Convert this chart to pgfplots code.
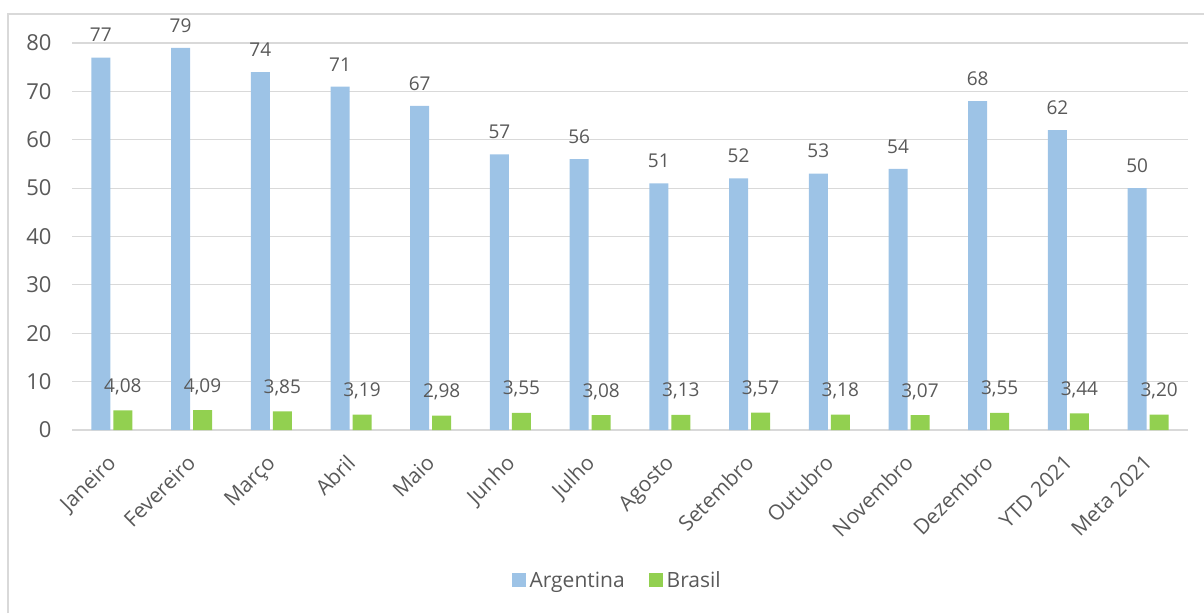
\documentclass[border=0pt]{standalone}
\usepackage{pgfplots}
\pgfplotsset{compat=1.18}
\usepackage{fontspec}
\setmainfont{Open Sans}
\definecolor{argc}{HTML}{9DC3E6}
\definecolor{brac}{HTML}{92D050}
\definecolor{gridc}{HTML}{D9D9D9}
\definecolor{txtc}{HTML}{595959}
\begin{document}
\begin{tikzpicture}[x=1pt,y=1pt]
\useasboundingbox (0,0) rectangle (1204,613);
\draw[gridc, line width=2pt] (7.5,0) -- (7.5,599) -- (1204,599);
\begin{axis}[
  at={(72pt,183pt)}, anchor=south west,
  scale only axis, width=1116pt, height=387pt,
  ybar=3pt, bar width=19pt,
  xmin=-0.5, xmax=13.5, ymin=0, ymax=80,
  xtick={0,...,13},
  xticklabels={Janeiro,Fevereiro,Março,Abril,Maio,Junho,Julho,Agosto,Setembro,Outubro,Novembro,Dezembro,YTD 2021,Meta 2021},
  ytick={0,10,...,80},
  axis x line*=bottom, axis y line*=left,
  y axis line style={draw=none},
  x axis line style={gridc, line width=1.5pt, -},
  ymajorgrids, grid style={gridc, line width=1.2pt},
  major tick length=0pt,
  clip=false,
  /pgf/number format/assume math mode=true,
  tick label style={text=txtc},
  xticklabel style={font=\fontsize{21}{25}\selectfont, rotate=45, anchor=north east, inner sep=0pt, xshift=-20.5pt, yshift=-12.5pt},
  yticklabel style={font=\fontsize{22}{26}\selectfont, xshift=-17pt},
  yticklabels={0,10,20,30,40,50,60,70,80},
  nodes near coords,
  every node near coord/.append style={font=\fontsize{19}{23}\selectfont, text=txtc, yshift=12pt},
  legend style={at={(0.4885,-0.388)}, anchor=center, draw=none, fill=none, legend columns=2,
    font=\fontsize{21}{25}\selectfont, text=txtc,
    /tikz/every odd column/.append style={column sep=2pt},
    /tikz/every even column/.append style={column sep=22pt}},
  legend image code/.code={\fill[#1] (0pt,-7pt) rectangle (14pt,7pt);},
]
\addplot[fill=argc, draw=none,
  nodes near coords={\pgfmathprintnumber[fixed, precision=0]{\pgfplotspointmeta}}]
  coordinates {(0,77) (1,79) (2,74) (3,71) (4,67) (5,57) (6,56) (7,51) (8,52) (9,53) (10,54) (11,68) (12,62) (13,50)};
\addplot[fill=brac, draw=none,
  nodes near coords={\pgfmathprintnumber[fixed, fixed zerofill, precision=2, use comma]{\pgfplotspointmeta}}]
  coordinates {(0,4.08) (1,4.09) (2,3.85) (3,3.19) (4,2.98) (5,3.55) (6,3.08) (7,3.13) (8,3.57) (9,3.18) (10,3.07) (11,3.55) (12,3.44) (13,3.20)};
\legend{Argentina,Brasil}
\end{axis}
\end{tikzpicture}
\end{document}
